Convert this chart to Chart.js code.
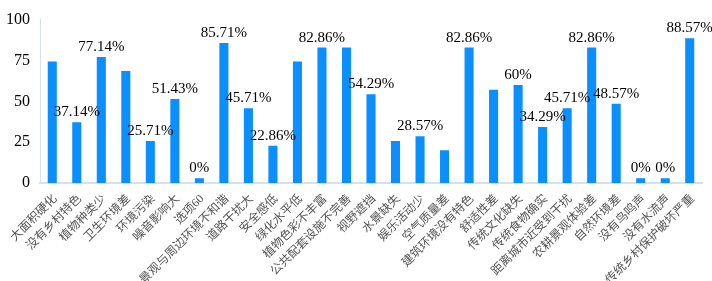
<!DOCTYPE html>
<html><head><meta charset="utf-8">
<script src="https://cdn.jsdelivr.net/npm/chart.js@4/dist/chart.umd.min.js"></script>
<style>html,body{margin:0;padding:0;background:#fff}#wrap{width:712px;height:281px}</style>
</head><body><div id="wrap"><canvas id="c" width="712" height="281"></canvas></div>
<script>
const categories = ['大面积硬化','没有乡村特色','植物种类少','卫生环境差','环境污染','噪音影响大','选项60','景观与周边环境不和谐','道路干扰大','安全感低','绿化水平低','植物色彩不丰富','公共配套设施不完善','视野遮挡','水景缺失','娱乐活动少','空气质量差','建筑环境没有特色','舒适性差','传统文化缺失','传统食物确实','距离城市近受到干扰','农耕景观体验差','自然环境差','没有鸟鸣声','没有水流声','传统乡村保护破坏严重'];
const values = [74.29,37.14,77.14,68.57,25.71,51.43,2.86,85.71,45.71,22.86,74.29,82.86,82.86,54.29,25.71,28.57,20,82.86,57.14,60,34.29,45.71,82.86,48.57,2.86,2.86,88.57];
const valueLabels = ['','37.14%','77.14%','','25.71%','51.43%','0%','85.71%','45.71%','22.86%','','82.86%','','54.29%','','28.57%','','82.86%','','60%','34.29%','45.71%','82.86%','48.57%','0%','0%','88.57%'];
const yTicks = [0,25,50,75,100];

const labelPlugin = {
  id: 'valLabels',
  afterDatasetsDraw(chart) {
    const ctx = chart.ctx;
    const meta = chart.getDatasetMeta(0);
    ctx.save();
    ctx.font = "15px 'Liberation Serif', serif";
    ctx.fillStyle = '#000';
    ctx.textAlign = 'center';
    ctx.textBaseline = 'alphabetic';
    meta.data.forEach((bar, i) => {
      const t = valueLabels[i];
      if (t) ctx.fillText(t, bar.x, bar.y - 6);
    });
    ctx.restore();
  }
};

new Chart(document.getElementById('c'), {
  type: 'bar',
  data: { labels: categories, datasets: [{ data: values, backgroundColor: '#0a8ffc', barPercentage: 0.37, categoryPercentage: 1 }] },
  options: {
    responsive: false, animation: false,
    layout: { padding: { top: 12, right: 10, left: 0, bottom: 0 } },
    plugins: { legend: { display: false }, tooltip: { enabled: false } },
    scales: {
      x: {
        grid: { display: false, drawTicks: false },
        border: { color: '#d6e0f0', width: 2 },
        ticks: { maxRotation: 45, minRotation: 45, autoSkip: false, padding: 9, labelOffset: 3, color: '#555',
          font: { family: "'Liberation Serif', 'Noto Sans CJK SC', serif", size: 12 } },
        afterFit(axis) { axis.height = 98; }
      },
      y: {
        min: 0, max: 100,
        afterBuildTicks(axis) { axis.ticks = yTicks.map(v => ({ value: v })); },
        grid: { display: false, drawTicks: false },
        border: { color: '#d6e0f0', width: 1 },
        ticks: { padding: 10, color: '#000', font: { family: "'Liberation Serif', serif", size: 16 } },
        afterFit(axis) { axis.width = 40; }
      }
    }
  },
  plugins: [labelPlugin]
});
</script></body></html>
